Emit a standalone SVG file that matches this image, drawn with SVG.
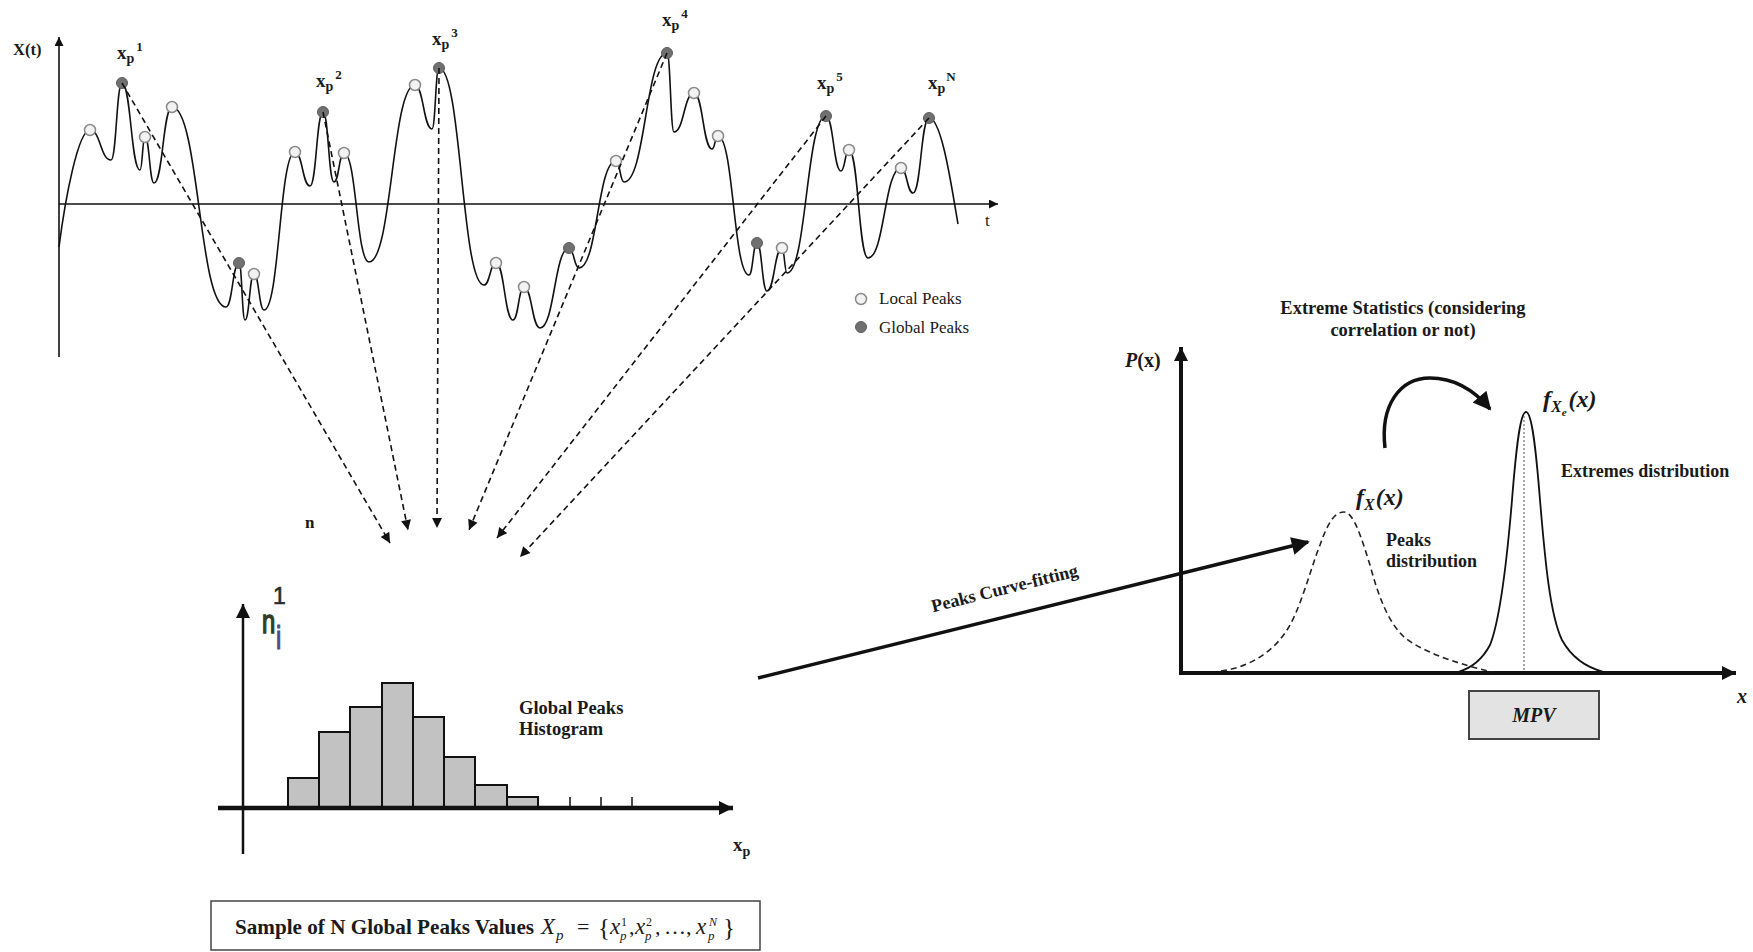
<svg xmlns="http://www.w3.org/2000/svg" width="1753" height="952" viewBox="0 0 1753 952">
<style>
text{font-family:"Liberation Serif","Times New Roman",serif;fill:#1a1a1a}
.b{font-weight:bold}
.bi{font-weight:bold;font-style:italic}
.it{font-style:italic}
.ax{stroke:#111;fill:none}
.sig{stroke:#111;stroke-width:1.6;fill:none}
.dash{stroke:#111;stroke-width:1.6;fill:none;stroke-dasharray:6 4}
.loc{fill:#f2f2f2;stroke:#8a8a8a;stroke-width:1.5}
.glo{fill:#707070;stroke:#5e5e5e;stroke-width:1}
.bar{fill:#c2c2c2;stroke:#111;stroke-width:2}
.xp{font-weight:bold;font-size:19px}
.math{font-weight:bold;font-style:italic}
.sans{font-family:"Liberation Sans",Arial,sans-serif}
</style>
<defs>
<marker id="ahs" viewBox="0 0 10 10" refX="10" refY="5" markerWidth="11" markerHeight="10" markerUnits="userSpaceOnUse" orient="auto"><path d="M0,0 L10,5 L0,10 z" fill="#111"/></marker>
<marker id="axs" viewBox="0 0 10 10" refX="10" refY="5" markerWidth="10" markerHeight="9" markerUnits="userSpaceOnUse" orient="auto"><path d="M0,0 L10,5 L0,10 z" fill="#111"/></marker>
<marker id="axb" viewBox="0 0 10 10" refX="10" refY="5" markerWidth="16" markerHeight="14" markerUnits="userSpaceOnUse" orient="auto"><path d="M0,0 L10,5 L0,10 z" fill="#111"/></marker>
<marker id="axh" viewBox="0 0 10 10" refX="10" refY="5" markerWidth="14" markerHeight="26" markerUnits="userSpaceOnUse" orient="auto"><path d="M0,0 L10,5 L0,10 z" fill="#111"/></marker>
<marker id="ahb" viewBox="0 0 10 10" refX="9" refY="5" markerWidth="20" markerHeight="18" markerUnits="userSpaceOnUse" orient="auto"><path d="M0,0 L10,5 L0,10 z" fill="#111"/></marker>
</defs>
<rect width="1753" height="952" fill="#fff"/>

<g id="signal-chart">
<line class="ax" x1="59" y1="357" x2="59" y2="37" stroke-width="1.6" marker-end="url(#axs)"/>
<line class="ax" x1="59" y1="204" x2="998" y2="204" stroke-width="1.6" marker-end="url(#axs)"/>
<text class="b" x="13" y="55" font-size="16.5">X(t)</text>
<text x="985" y="226" font-size="17">t</text>
<path class="sig" d="M59,247 C65,200 78,130 90,130 C100.5,130 100.5,160 111,160 C116.5,160 116.5,83 122,83 C131,83 131,170 140,170 C142.5,170 142.5,137 145,137 C149.5,137 149.5,183 154,183 C163,183 163,107 172,107 C199,107 199,307 226,307 C232.5,307 232.5,263 239,263 C242,263 242,320 245,320 C249.5,320 249.5,274 254,274 C259,274 259,310 264,310 C279.5,310 279.5,152 295,152 C302.5,152 302.5,186 310,186 C316.5,186 316.5,112 323,112 C328.5,112 328.5,182 334,182 C339,182 339,153 344,153 C356.5,153 356.5,262 369,262 C392,262 392,85 415,85 C423.5,85 423.5,129 432,129 C435.5,129 435.5,68 439,68 C461.5,68 461.5,285 484,285 C490,285 490,263 496,263 C504.5,263 504.5,320 513,320 C518.5,320 518.5,287 524,287 C532,287 532,328 540,328 C554.5,328 554.5,248 569,248 C574,248 574,268 579,268 C597.5,268 597.5,161 616,161 C620,161 620,182 624,182 C645.5,182 645.5,53 667,53 C670.5,53 670.5,132 674,132 C684,132 684,93 694,93 C703,93 703,149 712,149 C715,149 715,136 718,136 C733.5,136 733.5,275 749,275 C753,275 753,243 757,243 C762,243 762,291 767,291 C774.5,291 774.5,248 782,248 C784.5,248 784.5,273 787,273 C806.5,273 806.5,116 826,116 C833.5,116 833.5,171 841,171 C845,171 845,150 849,150 C858.5,150 858.5,258 868,258 C884.5,258 884.5,168 901,168 C907,168 907,193 913,193 C921,193 921,118 929,118 C942,118 952,190 958,224"/>
<g id="local-peaks">
<circle class="loc" cx="90" cy="130" r="5.5"/><circle class="loc" cx="145" cy="137" r="5.5"/><circle class="loc" cx="172" cy="107" r="5.5"/><circle class="loc" cx="254" cy="274" r="5.5"/><circle class="loc" cx="295" cy="152" r="5.5"/><circle class="loc" cx="344" cy="153" r="5.5"/><circle class="loc" cx="415" cy="85" r="5.5"/><circle class="loc" cx="496" cy="263" r="5.5"/><circle class="loc" cx="524" cy="287" r="5.5"/><circle class="loc" cx="616" cy="161" r="5.5"/><circle class="loc" cx="694" cy="93" r="5.5"/><circle class="loc" cx="718" cy="136" r="5.5"/><circle class="loc" cx="782" cy="248" r="5.5"/><circle class="loc" cx="849" cy="150" r="5.5"/><circle class="loc" cx="901" cy="168" r="5.5"/>
</g>
<g id="global-peaks">
<circle class="glo" cx="122" cy="83" r="5.5"/><circle class="glo" cx="239" cy="263" r="5.5"/><circle class="glo" cx="323" cy="112" r="5.5"/><circle class="glo" cx="439" cy="68" r="5.5"/><circle class="glo" cx="569" cy="248" r="5.5"/><circle class="glo" cx="667" cy="53" r="5.5"/><circle class="glo" cx="757" cy="243" r="5.5"/><circle class="glo" cx="826" cy="116" r="5.5"/><circle class="glo" cx="929" cy="118" r="5.5"/>
</g>
<g id="peak-labels">
<text class="xp" x="117" y="59">x<tspan font-size="14" dy="4">p</tspan><tspan font-size="13" dx="2" dy="-12">1</tspan></text>
<text class="xp" x="316" y="87">x<tspan font-size="14" dy="4">p</tspan><tspan font-size="13" dx="2" dy="-12">2</tspan></text>
<text class="xp" x="432" y="45">x<tspan font-size="14" dy="4">p</tspan><tspan font-size="13" dx="2" dy="-12">3</tspan></text>
<text class="xp" x="662" y="26">x<tspan font-size="14" dy="4">p</tspan><tspan font-size="13" dx="2" dy="-12">4</tspan></text>
<text class="xp" x="817" y="89">x<tspan font-size="14" dy="4">p</tspan><tspan font-size="13" dx="2" dy="-12">5</tspan></text>
<text class="xp" x="928" y="89">x<tspan font-size="14" dy="4">p</tspan><tspan font-size="13" dx="1" dy="-12">N</tspan></text>
</g>
<g id="legend">
<circle class="loc" cx="861" cy="299" r="5.5"/>
<text x="879" y="304" font-size="17">Local Peaks</text>
<circle class="glo" cx="861" cy="327" r="5.5"/>
<text x="879" y="333" font-size="17">Global Peaks</text>
</g>
<text id="n-label" class="b" x="305" y="528" font-size="17">n</text>
</g>

<g id="connectors">
<line class="dash" x1="122" y1="83" x2="390" y2="543" marker-end="url(#ahs)"/>
<line class="dash" x1="323" y1="112" x2="408" y2="530" marker-end="url(#ahs)"/>
<line class="dash" x1="439" y1="68" x2="437" y2="528" marker-end="url(#ahs)"/>
<line class="dash" x1="667" y1="53" x2="469" y2="530" marker-end="url(#ahs)"/>
<line class="dash" x1="826" y1="116" x2="497" y2="538" marker-end="url(#ahs)"/>
<line class="dash" x1="929" y1="118" x2="520" y2="557" marker-end="url(#ahs)"/>
<line x1="758" y1="678" x2="1308" y2="542" stroke="#111" stroke-width="3.5" marker-end="url(#ahb)"/>
<text class="b" font-size="18" text-anchor="middle" transform="translate(1006,594) rotate(-14)">Peaks Curve-fitting</text>
<path d="M1385,448 C1380,405 1400,378 1430,378 C1455,378 1474,390 1490,409" stroke="#111" stroke-width="3.5" fill="none" marker-end="url(#ahb)"/>
</g>

<g id="histogram">
<rect class="bar" x="288" y="778" width="31" height="30"/>
<rect class="bar" x="319" y="732" width="31" height="76"/>
<rect class="bar" x="350" y="707" width="32" height="101"/>
<rect class="bar" x="382" y="683" width="31" height="125"/>
<rect class="bar" x="413" y="717" width="31" height="91"/>
<rect class="bar" x="444" y="757" width="31" height="51"/>
<rect class="bar" x="475" y="785" width="32" height="23"/>
<rect class="bar" x="507" y="797" width="31" height="11"/>
<path d="M570,797 V808 M601,797 V808 M632,797 V808" stroke="#111" stroke-width="1.5"/>
<line class="ax" x1="243" y1="854" x2="243" y2="604" stroke-width="2.5" marker-end="url(#axb)"/>
<line class="ax" x1="218" y1="808" x2="733" y2="808" stroke-width="4.5" marker-end="url(#axh)"/>
<text class="sans" x="273" y="604" font-size="23" style="fill:#2a2a2a;stroke:#2a2a2a;stroke-width:0.6">1</text>
<text class="sans" transform="translate(262,633) scale(0.7,1)" font-size="34" style="fill:#2f3f26;stroke:#2f3f26;stroke-width:1.6">n</text>
<text class="sans" transform="translate(276,649) scale(0.7,1)" font-size="34" style="fill:#4b4a8a;stroke:#4b4a8a;stroke-width:1.2">i</text>
<text class="b" x="519" y="714" font-size="18.5">Global Peaks</text>
<text class="b" x="519" y="735" font-size="18.5">Histogram</text>
<text class="b" x="733" y="851" font-size="19">x<tspan font-size="14" dy="5">p</tspan></text>
</g>

<g id="sample-box">
<rect x="211" y="901" width="549" height="49" fill="#fff" stroke="#444" stroke-width="1.5"/>
<text class="b" x="235" y="934" font-size="21" textLength="299" lengthAdjust="spacingAndGlyphs">Sample of N Global Peaks Values</text>
<text class="it" x="541" y="934" font-size="23">X</text>
<text class="it" x="556" y="940" font-size="15">p</text>
<text x="577" y="934" font-size="22">=</text>
<text x="598" y="936" font-size="25">{</text>
<text class="it" x="610" y="934" font-size="23">x</text>
<text class="it" x="620" y="940" font-size="13">p</text>
<text x="621" y="926" font-size="12">1</text>
<text x="629" y="934" font-size="22">,</text>
<text class="it" x="635" y="934" font-size="23">x</text>
<text class="it" x="645" y="940" font-size="13">p</text>
<text x="646" y="926" font-size="12">2</text>
<text x="655" y="934" font-size="22">,</text>
<text x="664" y="934" font-size="22">…</text>
<text x="686" y="934" font-size="22">,</text>
<text class="it" x="696" y="934" font-size="23">x</text>
<text class="it" x="708" y="940" font-size="13">p</text>
<text class="it" x="709" y="926" font-size="12">N</text>
<text x="723" y="936" font-size="25">}</text>
</g>

<g id="distribution-chart">
<line class="ax" x1="1181" y1="675" x2="1181" y2="347" stroke-width="4" marker-end="url(#axb)"/>
<line class="ax" x1="1179" y1="673" x2="1736" y2="673" stroke-width="4" marker-end="url(#axb)"/>
<text x="1125" y="367" font-size="20"><tspan class="bi">P</tspan><tspan class="b">(x)</tspan></text>
<text class="b" x="1403" y="314" font-size="18.5" text-anchor="middle">Extreme Statistics (considering</text>
<text class="b" x="1403" y="336" font-size="18.5" text-anchor="middle">correlation or not)</text>
<path d="M1221,671 C1245,668 1270,655 1285,633 C1300,612 1310,570 1320,545 C1328,522 1335,512 1344,512 C1354,512 1362,540 1370,565 C1378,595 1388,622 1404,637 C1420,650 1450,662 1492,672" stroke="#222" stroke-width="1.6" fill="none" stroke-dasharray="6 4"/>
<path d="M1458,672 C1472,668 1482,660 1490,645 C1500,620 1507,560 1512,500 C1516,450 1520,412 1526,412 C1532,412 1536,450 1540,500 C1545,560 1550,615 1562,640 C1572,658 1588,668 1604,672" stroke="#111" stroke-width="1.8" fill="none"/>
<line x1="1524" y1="416" x2="1524" y2="672" stroke="#555" stroke-width="1" stroke-dasharray="2 2"/>
<text x="1543" y="407" font-size="24"><tspan class="math">f</tspan><tspan class="math" font-size="16" dy="5">X</tspan><tspan class="math" font-size="11" dy="4">e</tspan><tspan class="math" dy="-9" dx="2">(x)</tspan></text>
<text x="1356" y="505" font-size="24"><tspan class="math">f</tspan><tspan class="math" font-size="16" dy="5">X</tspan><tspan class="math" dy="-5" dx="1">(x)</tspan></text>
<text class="b" x="1386" y="546" font-size="18">Peaks</text>
<text class="b" x="1386" y="567" font-size="18">distribution</text>
<text class="b" x="1561" y="477" font-size="18">Extremes distribution</text>
<rect x="1469" y="691" width="130" height="48" fill="#e3e3e3" stroke="#444" stroke-width="2"/>
<text class="bi" x="1534" y="722" font-size="20" text-anchor="middle">MPV</text>
<text class="bi" x="1737" y="703" font-size="20">x</text>
</g>
</svg>
